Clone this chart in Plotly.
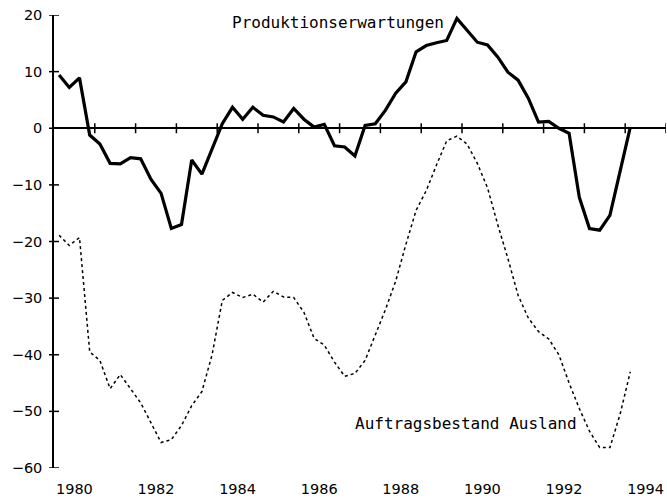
import plotly.graph_objects as go

# Quarterly data, plotted at mid-quarter (1980Q1 .. 1994Q1)
start_year = 1980
n_quarters = 57
quarters = [start_year + 0.125 + 0.25 * i for i in range(n_quarters)]

produktionserwartungen = [
    9.4, 7.2, 8.9, -1.2, -2.8, -6.2, -6.3, -5.2, -5.4, -9.0,
    -11.5, -17.7, -17.0, -5.6, -8.1, -3.5, 0.8, 3.7, 1.6, 3.7,
    2.3, 2.0, 1.1, 3.5, 1.6, 0.2, 0.7, -3.1, -3.3, -4.9,
    0.5, 0.8, 3.2, 6.2, 8.2, 13.5, 14.6, 15.1, 15.5, 19.4,
    17.3, 15.2, 14.7, 12.6, 9.9, 8.5, 5.3, 1.1, 1.2, 0.0,
    -0.9, -12.2, -17.7, -18.0, -15.4, -7.5, 0.2,
]

auftragsbestand_ausland = [
    -18.9, -20.7, -19.3, -39.5, -41.0, -46.0, -43.5, -46.0, -48.5, -52.0,
    -55.5, -55.0, -52.5, -49.0, -46.5, -40.0, -30.4, -29.0, -29.9, -29.3,
    -30.7, -28.8, -29.8, -29.9, -32.5, -37.1, -38.3, -41.3, -43.8, -43.3,
    -41.0, -36.5, -32.0, -27.0, -20.5, -14.5, -11.0, -6.5, -2.2, -1.4,
    -2.8, -6.2, -10.5, -17.0, -23.0, -29.5, -33.5, -35.9, -37.2, -40.0,
    -45.0, -49.5, -53.5, -56.4, -56.4, -50.5, -43.0,
]

x_label_years = [1980, 1982, 1984, 1986, 1988, 1990, 1992, 1994]
x_tick_years = list(range(1981, 1996))
y_ticks = [-60, -50, -40, -30, -20, -10, 0, 10, 20]

FONT = "DejaVu Sans"
LABEL_FONT = "DejaVu Sans Mono"

fig = go.Figure()
fig.add_trace(go.Scatter(
    x=quarters, y=auftragsbestand_ausland, mode="lines",
    line=dict(color="black", width=1.5, dash="3px,3px"),
    name="Auftragsbestand Ausland", showlegend=False,
))
fig.add_trace(go.Scatter(
    x=quarters, y=produktionserwartungen, mode="lines",
    line=dict(color="black", width=3.2),
    name="Produktionserwartungen", showlegend=False,
))

W, H = 667, 501
ml, mr, mt, mb = 54, 1, 15, 33
pw, ph = W - ml - mr, H - mt - mb
ymin, ymax = -60, 20
zero_frac = (0 - ymin) / (ymax - ymin)

shapes = []
# crossing ticks on the zero line
for yr in x_tick_years:
    shapes.append(dict(type="line", xref="x", yref="paper",
                       x0=yr, x1=yr, y0=zero_frac - 5 / ph, y1=zero_frac + 5 / ph,
                       line=dict(color="black", width=1.5)))
# crossing ticks on the y axis
for v in y_ticks:
    shapes.append(dict(type="line", xref="paper", yref="y",
                       x0=-5 / pw, x1=5 / pw, y0=v, y1=v,
                       line=dict(color="black", width=1.5)))

fig.update_layout(
    width=W, height=H,
    margin=dict(l=ml, r=mr, t=mt, b=mb, pad=0, autoexpand=False),
    paper_bgcolor="white", plot_bgcolor="white",
    font=dict(family=FONT, color="black", size=14.5),
    shapes=shapes,
    xaxis=dict(
        range=[1980, 1995], showgrid=False, zeroline=False, showline=False,
        tickvals=[y + 0.5 for y in x_label_years],
        ticktext=[str(y) for y in x_label_years],
        ticks="", ticklabelstandoff=10,
        tickfont=dict(family=FONT, size=14.5),
    ),
    yaxis=dict(
        range=[ymin, ymax], showgrid=False,
        zeroline=True, zerolinecolor="black", zerolinewidth=1.5,
        showline=True, linecolor="black", linewidth=1.5,
        tickvals=y_ticks, ticks="", ticklabelstandoff=7,
        tickfont=dict(family=FONT, size=14.5),
    ),
    annotations=[
        dict(text="Produktionserwartungen", x=1984.31, y=18.6, xref="x", yref="y",
             xanchor="left", yanchor="middle", showarrow=False,
             font=dict(family=LABEL_FONT, size=16, color="black")),
        dict(text="Auftragsbestand Ausland", x=1987.33, y=-52.1, xref="x", yref="y",
             xanchor="left", yanchor="middle", showarrow=False,
             font=dict(family=LABEL_FONT, size=16, color="black")),
    ],
)

fig.write_html("out.html", config={"displayModeBar": False},
               post_script="document.body.style.margin='0';")
